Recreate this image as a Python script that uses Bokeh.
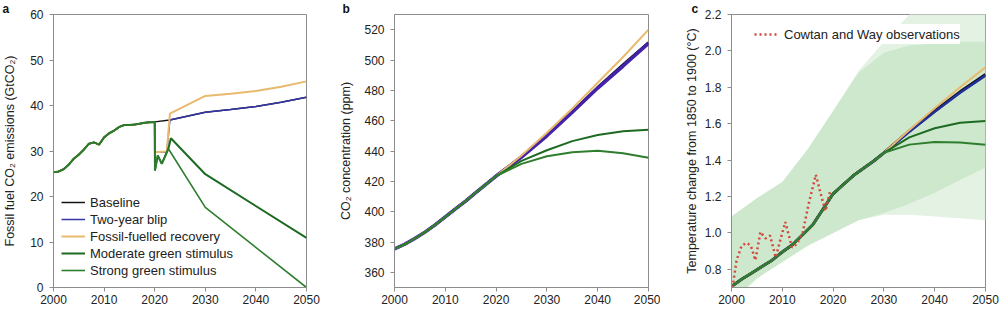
from bokeh.plotting import figure
from bokeh.layouts import row
from bokeh.models import Range1d, Legend, LegendItem, FixedTicker, PrintfTickFormatter
from bokeh.embed import file_html
from bokeh.resources import INLINE

# ---------------- data ----------------
# Panel a: fossil fuel CO2 emissions (GtCO2)
a_hist_years = list(range(2000, 2020))
a_hist = [25.3, 25.5, 26.0, 27.0, 28.3, 29.2, 30.3, 31.6, 31.9, 31.4,
          33.0, 33.9, 34.5, 35.3, 35.7, 35.7, 35.8, 36.0, 36.2, 36.3]
a_base_years = [2020, 2023, 2030, 2035, 2040, 2045, 2050]
a_base = [36.4, 36.8, 38.5, 39.1, 39.8, 40.7, 41.8]
a_blip_years = [2020, 2020.05, 2022.4, 2023, 2030, 2035, 2040, 2045, 2050]
a_blip = [36.4, 29.7, 29.8, 36.8, 38.5, 39.1, 39.8, 40.7, 41.8]
a_fossil_years = [2020, 2020.05, 2022.4, 2023, 2030, 2035, 2040, 2045, 2050]
a_fossil = [36.4, 29.7, 29.9, 38.2, 42.1, 42.6, 43.2, 44.1, 45.3]
a_mod_years = [2020, 2020.05, 2020.6, 2021.4, 2022.7, 2023.2, 2030, 2050]
a_mod = [36.4, 25.7, 29.0, 27.2, 30.5, 32.8, 24.9, 10.9]
a_str_years = [2020, 2020.05, 2020.6, 2021.4, 2022.7, 2030, 2050]
a_str = [36.4, 25.7, 29.0, 27.2, 30.5, 17.6, 0.0]

# Panel b: CO2 concentration (ppm)
b_hist_years = [2000, 2002, 2004, 2006, 2008, 2010, 2012, 2014, 2016, 2018, 2020]
b_hist = [375.5, 378.5, 382.3, 386.5, 391.3, 396.5, 401.8, 407.0, 412.5, 418.0, 423.5]
b_fut_years = [2020, 2025, 2030, 2035, 2040, 2045, 2050]
b_base = [423.5, 436.5, 450.5, 466.0, 482.0, 497.0, 511.5]
b_blip = [423.5, 436.0, 450.0, 465.5, 481.5, 496.0, 511.0]
b_fossil = [423.5, 437.0, 452.0, 468.0, 485.0, 502.0, 520.0]
b_mod = [423.5, 433.5, 440.5, 446.5, 450.5, 453.0, 454.0]
b_str = [423.5, 431.5, 436.5, 439.2, 440.2, 438.5, 435.5]

# Panel c: temperature change (deg C)
c_hist_years = [2000, 2002, 2004, 2006, 2008, 2010, 2012, 2014, 2016, 2018,
                2020, 2022, 2024, 2026, 2028, 2030]
c_hist = [0.705, 0.745, 0.78, 0.815, 0.85, 0.895, 0.935, 0.99, 1.045, 1.13,
          1.215, 1.265, 1.315, 1.355, 1.395, 1.44]
c_fut_years = [2030, 2035, 2040, 2045, 2050]
c_base = [1.44, 1.56, 1.67, 1.775, 1.87]
c_blip = [1.44, 1.555, 1.665, 1.77, 1.865]
c_fossil = [1.44, 1.565, 1.685, 1.80, 1.91]
c_mod = [1.44, 1.525, 1.575, 1.605, 1.615]
c_str = [1.44, 1.485, 1.50, 1.497, 1.484]
c_band_years = [2000, 2005, 2010, 2015, 2020, 2025, 2030, 2035, 2040, 2045, 2050]
c_inner_hi = [1.09, 1.19, 1.28, 1.46, 1.67, 1.88, 1.99, 2.03, 2.04, 2.05, 2.05]
c_inner_lo = [0.62, 0.75, 0.84, 0.93, 1.00, 1.07, 1.11, 1.16, 1.22, 1.29, 1.36]
c_outer_hi = [1.09, 1.19, 1.28, 1.46, 1.67, 1.89, 2.05, 2.20, 2.30, 2.35, 2.40]
c_outer_lo = [0.62, 0.75, 0.84, 0.93, 1.00, 1.07, 1.10, 1.10, 1.09, 1.08, 1.07]
obs_years = [2000.2, 2001.0, 2002.0, 2003.0, 2003.8, 2004.7, 2005.7, 2006.7, 2007.6,
             2008.7, 2009.6, 2010.6, 2011.9, 2012.9, 2014.0, 2015.2, 2016.6, 2017.5,
             2018.5, 2019.5]
obs_vals = [0.70, 0.85, 0.93, 0.945, 0.93, 0.85, 1.005, 0.97, 0.985, 0.865, 0.96,
            1.06, 0.92, 0.94, 1.00, 1.16, 1.32, 1.22, 1.12, 1.24]

x_ticks = [2000, 2010, 2020, 2030, 2040, 2050]
a_yticks = [0, 10, 20, 30, 40, 50, 60]
b_yticks = [360, 380, 400, 420, 440, 460, 480, 500, 520]
c_yticks = [0.8, 1.0, 1.2, 1.4, 1.6, 1.8, 2.0, 2.2]

# ---------------- style ----------------
FONT = "Liberation Sans"
GRAY = "#8c8c8c"
BLACK = "#141414"
BLUE = "#3535a8"
ORANGE = "#e9b96e"
GMOD = "#1d6a22"
GSTR = "#2f7d2f"


def make_fig(width, left, right, top, bottom, yr, yticks, ylabel, lab_standoff, tag, tag_dx):
    p = figure(width=width, height=309, x_range=Range1d(2000, 2050), y_range=Range1d(*yr),
               min_border_left=left, min_border_right=right, min_border_top=top,
               min_border_bottom=bottom, output_backend="svg", toolbar_location=None)
    p.outline_line_color = GRAY
    p.xgrid.visible = False
    p.ygrid.visible = False
    for ax in (p.xaxis[0], p.yaxis[0]):
        ax.axis_line_color = GRAY
        ax.major_tick_line_color = GRAY
        ax.minor_tick_line_color = None
        ax.major_tick_out = 4
        ax.major_tick_in = 0
        ax.major_label_text_font = FONT
        ax.major_label_text_font_size = "12px"
        ax.major_label_text_color = "#222222"
    p.xaxis.ticker = FixedTicker(ticks=x_ticks)
    p.yaxis.ticker = FixedTicker(ticks=yticks)
    p.xaxis.major_label_standoff = 3
    p.yaxis.major_label_standoff = 6
    p.yaxis.axis_label = ylabel
    p.yaxis.axis_label_text_font = FONT
    p.yaxis.axis_label_text_font_size = "12.5px"
    p.yaxis.axis_label_text_font_style = "normal"
    p.yaxis.axis_label_text_color = "#222222"
    p.yaxis.axis_label_standoff = lab_standoff
    # panel tag as a left-shifted title
    p.title.text = tag
    p.title.align = "left"
    p.title.offset = -(left - tag_dx)
    p.title.standoff = -3
    p.title.text_font = FONT
    p.title.text_font_style = "bold"
    p.title.text_font_size = "12px"
    p.title.text_color = "#111111"
    return p


# ---- panel a ----
pa = make_fig(330, 52, 24, 13, 21, (0, 60), a_yticks,
              "Fossil fuel CO\u2082 emissions (GtCO\u2082)", 10, "a", 1)
ra_base = pa.line(a_hist_years + a_base_years, a_hist + a_base, line_color=BLACK, line_width=1.5)
ra_blip = pa.line(a_hist_years + a_blip_years, a_hist + a_blip, line_color=BLUE, line_width=1.5)
ra_foss = pa.line(a_hist_years + a_fossil_years, a_hist + a_fossil, line_color=ORANGE, line_width=2)
ra_mod = pa.line(a_hist_years + a_mod_years, a_hist + a_mod, line_color=GMOD, line_width=2)
ra_str = pa.line(a_hist_years + a_str_years, a_hist + a_str, line_color=GSTR, line_width=1.6)
leg_a = Legend(items=[LegendItem(label="Baseline", renderers=[ra_base]),
                      LegendItem(label="Two-year blip", renderers=[ra_blip]),
                      LegendItem(label="Fossil-fuelled recovery", renderers=[ra_foss]),
                      LegendItem(label="Moderate green stimulus", renderers=[ra_mod]),
                      LegendItem(label="Strong green stimulus", renderers=[ra_str])],
               location=(8, 9), padding=3, spacing=1, glyph_width=24, glyph_height=16,
               label_height=16, label_standoff=5, border_line_color=None,
               background_fill_alpha=0, label_text_font=FONT, label_text_font_size="13px",
               label_text_color="#222222")
pa.add_layout(leg_a, "center")

# ---- panel b ----
pb = make_fig(330, 64, 12, 13, 22, (350, 530), b_yticks,
              "CO\u2082 concentration (ppm)", 8, "b", 12)
pb.line(b_hist_years + b_fut_years[1:], b_hist + b_base[1:], line_color=BLACK, line_width=2.5)
pb.line(b_hist_years + b_fut_years[1:], b_hist + b_blip[1:], line_color="#4422aa", line_width=3.5)
pb.line(b_hist_years + b_fut_years[1:], b_hist + b_fossil[1:], line_color=ORANGE, line_width=2)
pb.line(b_hist_years + b_fut_years[1:], b_hist + b_mod[1:], line_color=GMOD, line_width=2)
pb.line(b_hist_years + b_fut_years[1:], b_hist + b_str[1:], line_color=GSTR, line_width=2)

# ---- panel c ----
pc = make_fig(340, 71, 15, 14, 22, (0.7, 2.2), c_yticks,
              "Temperature change from 1850 to 1900 (\u00b0C)", 3, "c", 31)
pc.yaxis.formatter = PrintfTickFormatter(format="%.1f")
pc.varea(x=c_band_years, y1=c_outer_lo, y2=c_outer_hi, fill_color="#e4f2e4")
pc.varea(x=c_band_years, y1=c_inner_lo, y2=c_inner_hi, fill_color="#cde8cd")
pc.line(c_hist_years + c_fut_years[1:], c_hist + c_base[1:], line_color=BLACK, line_width=3)
pc.line(c_hist_years + c_fut_years[1:], c_hist + c_blip[1:], line_color="#23309a", line_width=2.5)
pc.line(c_hist_years + c_fut_years[1:], c_hist + c_fossil[1:], line_color=ORANGE, line_width=2)
pc.line(c_hist_years + c_fut_years[1:], c_hist + c_mod[1:], line_color=GMOD, line_width=2)
pc.line(c_hist_years + c_fut_years[1:], c_hist + c_str[1:], line_color=GSTR, line_width=2)
r_obs = pc.line(obs_years, obs_vals, line_color="#d2483c", line_width=2.5, line_dash="2 3")
leg_c = Legend(items=[LegendItem(label="Cowtan and Way observations", renderers=[r_obs])],
               location=(23, 243), padding=4, glyph_width=25, glyph_height=20,
               label_height=20, label_standoff=5, border_line_color=None,
               background_fill_color="white", background_fill_alpha=0.9,
               label_text_font=FONT, label_text_font_size="13px", label_text_color="#222222")
pc.add_layout(leg_c, "center")

layout = row(pa, pb, pc)
open("out.html", "w").write(file_html(layout, INLINE))
